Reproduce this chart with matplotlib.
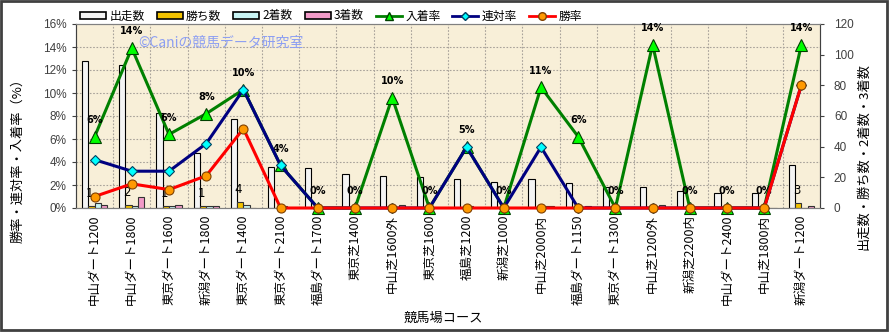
import matplotlib
matplotlib.use("Agg")
import matplotlib.pyplot as plt
from matplotlib.patches import Patch, Rectangle
from matplotlib.lines import Line2D
import numpy as np

plt.rcParams['font.family'] = ['Noto Sans CJK JP', 'DejaVu Sans']

# data
courses = ['中山ダート1200', '中山ダート1800', '東京ダート1600', '新潟ダート1800',
           '東京ダート1400', '東京ダート2100', '福島ダート1700', '東京芝1400',
           '中山芝1600外', '東京芝1600', '福島芝1200', '新潟芝1000',
           '中山芝2000内', '福島ダート1150', '東京ダート1300', '中山芝1200外',
           '新潟芝2200内', '中山ダート2400', '中山芝1800内', '新潟ダート1200']
starts = [96, 93, 62, 36, 58, 27, 26, 22, 21, 20, 19, 17, 19, 16, 14, 14, 11, 10, 10, 28]
wins = [1, 2, 1, 1, 4, 0, 0, 0, 0, 0, 0, 0, 0, 0, 0, 0, 0, 0, 0, 3]
seconds = [3, 1, 1, 1, 2, 1, 0, 0, 0, 0, 1, 0, 1, 0, 0, 0, 0, 0, 0, 0]
thirds = [2, 7, 2, 1, 0, 0, 0, 0, 2, 0, 0, 0, 1, 1, 0, 2, 0, 0, 0, 1]
place_rate = [6.2, 13.9, 6.4, 8.2, 10.3, 3.7, 0, 0, 9.6, 0, 5.3, 0, 10.5, 6.2, 0, 14.2, 0, 0, 0, 14.2]
rentai_rate = [4.2, 3.2, 3.2, 5.6, 10.3, 3.7, 0, 0, 0, 0, 5.3, 0, 5.3, 0, 0, 0, 0, 0, 0, 10.7]
win_rate = [1.0, 2.1, 1.6, 2.8, 6.9, 0, 0, 0, 0, 0, 0, 0, 0, 0, 0, 0, 0, 0, 0, 10.7]

x = np.arange(len(courses))
w = 0.17

fig = plt.figure(figsize=(8.89, 3.32), dpi=100)
ax = fig.add_axes([76/889, 1-208/332, 744/889, 184/332])
ax2 = ax.twinx()

ax.set_facecolor('#F8EFD8')
ax.set_xlim(-0.5, len(courses)-0.5)
ax.set_ylim(0, 120)
ax2.set_ylim(0, 16)

# grid behind bars
ax.hlines(np.arange(15, 120, 15), -0.5, len(courses)-0.5, colors='#A8A29A',
          linestyles=(0, (1.5, 1.5)), lw=0.8, zorder=0)
ax.vlines(np.arange(0.5, len(courses)-0.5, 1), 0, 120, colors='#A8A29A',
          linestyles=(0, (1.5, 1.5)), lw=0.8, zorder=0)

ax.bar(x-1.5*w, starts, w, color='#F4F4F4', edgecolor='black', lw=0.8, zorder=2)
ax.bar(x-0.5*w, wins, w, color='#F2C200', edgecolor='#333333', lw=0.8, zorder=2)
ax.bar(x+0.5*w, seconds, w, color='#C8F4F4', edgecolor='#333333', lw=0.8, zorder=2)
ax.bar(x+1.5*w, thirds, w, color='#F29AC8', edgecolor='#333333', lw=0.8, zorder=2)

for i, v in enumerate(wins):
    if v > 0:
        ax.annotate(str(v), (x[i]-0.5*w-0.05, v), xytext=(0, 9), textcoords='offset points',
                    ha='center', va='center', fontsize=8.5, family='DejaVu Sans', color='black')

ax2.plot(x, place_rate, color='#008000', lw=2.2, marker='^', ms=8,
         mfc='#00FF00', mec='#004000', mew=0.8, clip_on=False, zorder=3)
ax2.plot(x, rentai_rate, color='#000080', lw=2.2, marker='D', ms=5.5,
         mfc='#00FFFF', mec='#004060', mew=0.8, clip_on=False, zorder=4)
ax2.plot(x, win_rate, color='#FF0000', lw=2.2, marker='o', ms=6.5,
         mfc='#FF9900', mec='#804000', mew=0.8, clip_on=False, zorder=5)

for i, v in enumerate(place_rate):
    ax2.annotate(f'{int(v+0.5)}%', (x[i], v), xytext=(0, 12), textcoords='offset points',
                 ha='center', va='center', fontsize=7, fontweight='bold',
                 family='DejaVu Sans', color='black')

# axes: bars on the right, rates on the left
ax.yaxis.tick_right()
ax2.yaxis.tick_left()
ax.set_yticks(np.arange(0, 121, 20))
ax2.set_yticks(np.arange(0, 17, 2))
ax2.set_yticklabels([f'{t}%' for t in range(0, 17, 2)])
for a in (ax, ax2):
    a.tick_params(axis='y', length=3, width=0.8, color='#404040', labelsize=8.5,
                  labelcolor='#404040', pad=5)
    for lab in a.get_yticklabels():
        lab.set_family('Liberation Sans')
    for s in a.spines.values():
        s.set_color('#808080')
        s.set_linewidth(0.8)
ax2.spines['left'].set_color('#404040')
ax2.spines['right'].set_color('#404040')
ax2.tick_params(axis='y', pad=4)
ax.tick_params(axis='y', pad=7)

ax.set_xticks(x)
ax.set_xticklabels(courses, rotation=90, fontsize=9)
ax.tick_params(axis='x', length=0, pad=5)

fig.text(18/889, 1-157/332, '勝率・連対率・入着率（%）', rotation=90,
         ha='center', va='center', fontsize=9.5)
fig.text(864/889, 1-157/332, '出走数・勝ち数・2着数・3着数', rotation=90,
         ha='center', va='center', fontsize=9.5)
fig.text(443/889, 1-318/332, '競馬場コース', ha='center', va='center', fontsize=9.5)
fig.text(138/889, 1-43/332, '©Caniの競馬データ研究室', ha='left', va='center',
         fontsize=10, color='#8C9EF2')

handles = [
    Patch(facecolor='#F4F4F4', edgecolor='black', lw=1.2),
    Patch(facecolor='#F2C200', edgecolor='black', lw=1.2),
    Patch(facecolor='#C8F4F4', edgecolor='black', lw=1.2),
    Patch(facecolor='#F29AC8', edgecolor='black', lw=1.2),
    Line2D([], [], color='#008000', lw=2, marker='^', ms=6, mfc='#00FF00', mec='#004000'),
    Line2D([], [], color='#000080', lw=2, marker='D', ms=4.5, mfc='#00FFFF', mec='#004060'),
    Line2D([], [], color='#FF0000', lw=2, marker='o', ms=5.5, mfc='#FF9900', mec='#804000'),
]
labels = ['出走数', '勝ち数', '2着数', '3着数', '入着率', '連対率', '勝率']
fig.legend(handles, labels, loc='center left', bbox_to_anchor=(80/889, 1-16/332),
           ncol=7, frameon=False, fontsize=8.5, handlelength=2.2, handleheight=0.6,
           handletextpad=0.3, columnspacing=1.0, borderaxespad=0, borderpad=0)

fig.patches.append(Rectangle((1/889, 2/332), 886/889, 329/332, transform=fig.transFigure,
                             fill=False, edgecolor='#404040', lw=2))

fig.savefig('out.png', dpi=100)
